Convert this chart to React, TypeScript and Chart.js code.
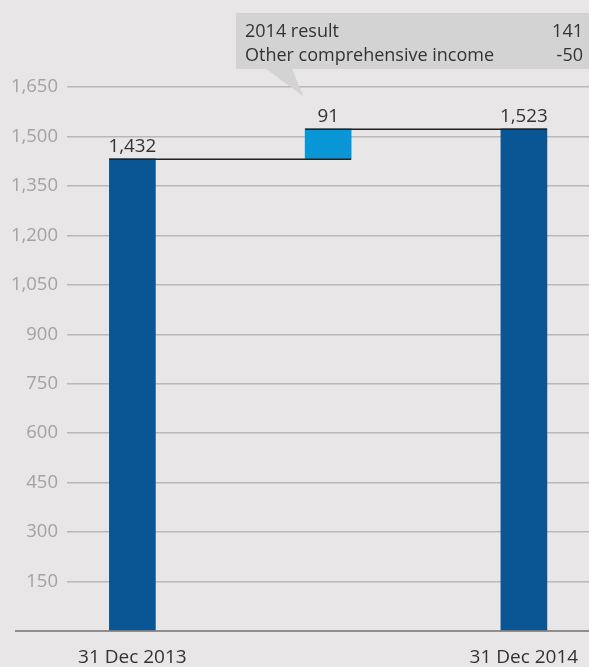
import React, { useEffect, useRef } from "react";
import { Chart, registerables } from "chart.js";

Chart.register(...registerables);

const categories = ["31 Dec 2013", "", "31 Dec 2014"];
const barStart = [0, 1432, 0];
const barEnd = [1432, 1523, 1523];
const valueLabels = ["1,432", "91", "1,523"];
const barColors = ["#0A5593", "#0896D6", "#0A5593"];
const yTickStep = 150;
const yMax = 1650;
const noteLabels = ["2014 result", "Other comprehensive income"];
const noteValues = ["141", "-50"];

const FONT = "'Open Sans', sans-serif";
const BG = "#E8E6E7";

const drawPlugin = {
  id: "waterfallExtras",
  beforeDraw(chart: any) {
    const ctx = chart.ctx;
    ctx.save();
    ctx.fillStyle = BG;
    ctx.fillRect(0, 0, chart.width, chart.height);
    ctx.restore();
  },
  afterDatasetsDraw(chart: any) {
    const ctx = chart.ctx;
    const meta = chart.getDatasetMeta(0);
    const y = chart.scales.y;
    ctx.save();
    // axis line
    ctx.strokeStyle = "#707070";
    ctx.lineWidth = 1.5;
    ctx.beginPath();
    const y0 = y.getPixelForValue(0);
    ctx.moveTo(15, y0);
    ctx.lineTo(chart.width, y0);
    ctx.stroke();
    // connectors
    ctx.strokeStyle = "#222";
    ctx.lineWidth = 1.5;
    for (let i = 0; i < meta.data.length - 1; i++) {
      const a = meta.data[i];
      const b = meta.data[i + 1];
      const py = Math.round(y.getPixelForValue(barEnd[i])) + 0.25;
      ctx.beginPath();
      ctx.moveTo(a.x - a.width / 2, py);
      ctx.lineTo(b.x + b.width / 2, py);
      ctx.stroke();
    }
    // value labels
    ctx.fillStyle = "#333";
    ctx.font = `18.8px ${FONT}`;
    ctx.textAlign = "center";
    ctx.textBaseline = "alphabetic";
    meta.data.forEach((bar: any, i: number) => {
      const top = y.getPixelForValue(Math.max(barStart[i], barEnd[i]));
      ctx.fillText(valueLabels[i], bar.x, top - 7);
    });
    // annotation box
    const mid = meta.data[1];
    const boxL = 236;
    const boxT = 13;
    const boxB = 69;
    ctx.fillStyle = "#D3D3D4";
    ctx.fillRect(boxL, boxT, chart.width - boxL, boxB - boxT);
    ctx.beginPath();
    ctx.moveTo(mid.x - 62, boxB);
    ctx.lineTo(mid.x - 36, boxB);
    ctx.lineTo(mid.x - 25, boxB + 27);
    ctx.closePath();
    ctx.fill();
    ctx.fillStyle = "#333";
    ctx.font = `18px ${FONT}`;
    noteLabels.forEach((t, i) => {
      ctx.textAlign = "left";
      ctx.fillText(t, 245, 37 + i * 24);
      ctx.textAlign = "right";
      ctx.fillText(noteValues[i], 583, 37 + i * 24);
    });
    ctx.restore();
  },
};

export default function App() {
  const ref = useRef<HTMLCanvasElement>(null);
  useEffect(() => {
    if (!ref.current) return;
    const chart = new Chart(ref.current, {
      type: "bar",
      data: {
        datasets: [
          {
            data: categories.map((_, i) => ({ x: i, y: [barStart[i], barEnd[i]] })) as any,
            backgroundColor: barColors,
            barThickness: 46,
            borderWidth: 0,
          },
        ],
      },
      options: {
        animation: false,
        responsive: false,
        maintainAspectRatio: false,
        layout: { padding: { top: 87, right: 0, left: 0, bottom: 0 } },
        plugins: { legend: { display: false }, tooltip: { enabled: false } },
        scales: {
          x: {
            type: "linear",
            offset: false,
            min: -0.334,
            max: 2.3325,
            grid: { display: false, drawTicks: false },
            border: { display: false },
            afterBuildTicks: (scale: any) => {
              scale.ticks = [{ value: 0 }, { value: 2 }];
            },
            afterFit: (scale: any) => {
              scale.height = 36;
              scale.paddingLeft = 0;
              scale.paddingRight = 0;
            },
            ticks: {
              padding: 15,
              autoSkip: false,
              maxRotation: 0,
              color: "#333",
              font: { family: FONT, size: 19 },
              callback: (v: any) => categories[v as number] ?? "",
            },
          },
          y: {
            min: 0,
            max: yMax,
            afterFit: (scale: any) => {
              scale.width = 67;
            },
            grid: {
              drawTicks: false,
              color: (c: any) => (c.tick && c.tick.value === 0 ? "rgba(0,0,0,0)" : "#B8B8B8"),
              lineWidth: 1.5,
            },
            border: { display: false },
            ticks: {
              stepSize: yTickStep,
              padding: 9,
              color: "#A3A3A3",
              font: { family: FONT, size: 18.5 },
              callback: (v: any) => (v === 0 ? "" : Number(v).toLocaleString("en-US")),
            },
          },
        },
      },
      plugins: [drawPlugin],
    });
    return () => chart.destroy();
  }, []);
  return (
    <div style={{ position: "fixed", left: 0, top: 0, width: 589, height: 667, background: BG }}>
      <canvas ref={ref} width={589} height={667} style={{ display: "block" }} />
    </div>
  );
}
